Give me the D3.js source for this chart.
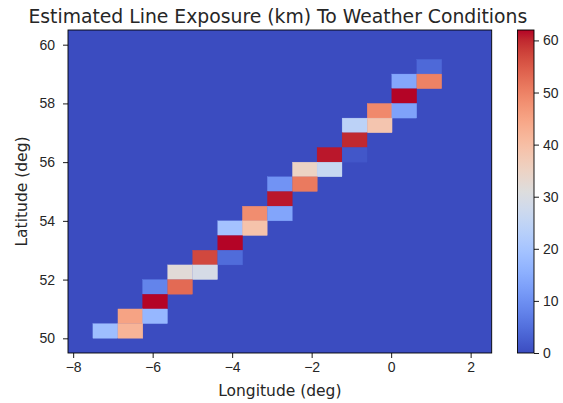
<!DOCTYPE html>
<html>
<head>
<meta charset="utf-8">
<script src="https://cdn.jsdelivr.net/npm/d3@7"></script>
<style>
  body { margin: 0; background: #fff; }
  svg { font-family: "DejaVu Sans", sans-serif; }
  .axis path, .axis line { stroke: #000; stroke-width: 0.9; }
  .axis text { fill: #262626; font-size: 14px; }
</style>
</head>
<body>
<svg width="563" height="403"></svg>
<script>
// grid of the histogram
var lonRange = [-8.13, 2.53],
    latRange = [49.5, 60.5],
    lonStep = 0.627,
    latStep = 0.5;

// non-empty cells (cell centres) and km of line exposure
var cellLon = [0.96, 0.33, 0.96, 0.33, -0.29, 0.33, -0.92, -0.29, -0.92, -1.55, -0.92,
               -2.17, -1.55, -2.80, -2.17, -2.80, -3.43, -2.80, -4.05, -3.43, -4.05,
               -4.68, -4.05, -5.31, -4.68, -5.94, -5.31, -5.94, -6.56, -5.94, -7.19, -6.56];
var cellLat = [59.25, 58.75, 58.75, 58.25, 57.75, 57.75, 57.25, 57.25, 56.75, 56.25, 56.25,
               55.75, 55.75, 55.25, 55.25, 54.75, 54.25, 54.25, 53.75, 53.75, 53.25,
               52.75, 52.75, 52.25, 52.25, 51.75, 51.75, 51.25, 50.75, 50.75, 50.25, 50.25];
var cellKm  = [4, 14, 50, 62, 49, 13, 24, 38.5, 60, 61, 1.5,
               35, 26, 10.5, 51, 61, 48.5, 13.5, 19.5, 39, 62,
               57, 4.5, 32, 29, 8, 53, 62, 45, 17, 18.5, 42];

var xTicks = [-8, -6, -4, -2, 0, 2],
    yTicks = [50, 52, 54, 56, 58, 60],
    cTicks = [0, 10, 20, 30, 40, 50, 60],
    kmMax = 62;

// matplotlib coolwarm (Moreland table)
var coolwarmStops = ["#3b4cc0", "#445acc", "#4d68d7", "#5775e1", "#6282ea", "#6c8ef1", "#779af7",
  "#82a5fb", "#8db0fe", "#98b9ff", "#a3c2ff", "#aec9fd", "#b8d0f9", "#c2d5f4", "#ccd9ee",
  "#d5dbe6", "#dddddd", "#e5d8d1", "#ecd3c5", "#f1ccb9", "#f5c4ad", "#f7bba0", "#f7b194",
  "#f7a687", "#f49a7b", "#f18d6f", "#ec7f63", "#e57058", "#de604d", "#d55042", "#cb3e38",
  "#c0282f", "#b40426"];

var svg = d3.select("svg"),
    margin = {top: 30, left: 68},
    width = 423.7,
    height = 323,
    g = svg.append("g").attr("transform", "translate(" + margin.left + "," + margin.top + ")");

var x = d3.scaleLinear().domain(lonRange).range([0, width]),
    y = d3.scaleLinear().domain(latRange).range([height, 0]),
    color = d3.scaleLinear()
      .domain(coolwarmStops.map(function(d, i) { return i / (coolwarmStops.length - 1) * kmMax; }))
      .range(coolwarmStops)
      .clamp(true);

// empty cells
g.append("rect")
    .attr("width", width)
    .attr("height", height)
    .attr("fill", color(0));

var cells = cellKm.map(function(v, i) { return {lon: cellLon[i], lat: cellLat[i], km: v}; });

g.selectAll(".cell")
    .data(cells)
    .enter().append("rect")
    .attr("class", "cell")
    .attr("x", function(d) { return x(d.lon - lonStep / 2); })
    .attr("y", function(d) { return y(d.lat + latStep / 2); })
    .attr("width", function(d) { return x(d.lon + lonStep / 2) - x(d.lon - lonStep / 2); })
    .attr("height", function(d) { return y(d.lat - latStep / 2) - y(d.lat + latStep / 2); })
    .attr("fill", function(d) { return color(d.km); })
    .attr("stroke", function(d) { return color(d.km); })
    .attr("stroke-width", 0.3);

g.append("rect")
    .attr("width", width)
    .attr("height", height)
    .attr("fill", "none")
    .attr("stroke", "#000")
    .attr("stroke-width", 0.9);

g.append("g")
    .attr("class", "axis")
    .attr("transform", "translate(0," + height + ")")
    .call(d3.axisBottom(x).tickValues(xTicks).tickSize(5).tickPadding(4).tickFormat(d3.format("d")))
    .call(function(a) { a.select(".domain").remove(); });

g.append("g")
    .attr("class", "axis")
    .call(d3.axisLeft(y).tickValues(yTicks).tickSize(5).tickPadding(8))
    .call(function(a) { a.select(".domain").remove(); });

svg.append("text")
    .attr("x", margin.left + width / 2)
    .attr("y", 396)
    .attr("text-anchor", "middle")
    .attr("fill", "#262626")
    .style("font-size", "15.5px")
    .text("Longitude (deg)");

svg.append("text")
    .attr("transform", "translate(26.5," + (margin.top + height / 2) + ") rotate(-90)")
    .attr("text-anchor", "middle")
    .attr("fill", "#262626")
    .style("font-size", "15.5px")
    .text("Latitude (deg)");

svg.append("text")
    .attr("x", margin.left + width / 2 - 2)
    .attr("y", 22.5)
    .attr("text-anchor", "middle")
    .attr("fill", "#262626")
    .style("font-size", "18.8px")
    .text("Estimated Line Exposure (km) To Weather Conditions");

// colorbar
var cbX = 517.5, cbW = 16.5;
var cb = svg.append("g").attr("transform", "translate(" + cbX + "," + margin.top + ")");
var c = d3.scaleLinear().domain([0, kmMax]).range([height, 0]);

var grad = svg.append("defs").append("linearGradient")
    .attr("id", "cw")
    .attr("x1", 0).attr("y1", 1).attr("x2", 0).attr("y2", 0);
grad.selectAll("stop")
    .data(coolwarmStops)
    .enter().append("stop")
    .attr("offset", function(d, i) { return i / (coolwarmStops.length - 1); })
    .attr("stop-color", function(d) { return d; });

cb.append("rect")
    .attr("width", cbW)
    .attr("height", height)
    .attr("fill", "url(#cw)")
    .attr("stroke", "#000")
    .attr("stroke-width", 0.9);

cb.append("g")
    .attr("class", "axis")
    .attr("transform", "translate(" + cbW + ",0)")
    .call(d3.axisRight(c).tickValues(cTicks).tickSize(5).tickPadding(4))
    .call(function(a) { a.select(".domain").remove(); });
</script>
</body>
</html>
